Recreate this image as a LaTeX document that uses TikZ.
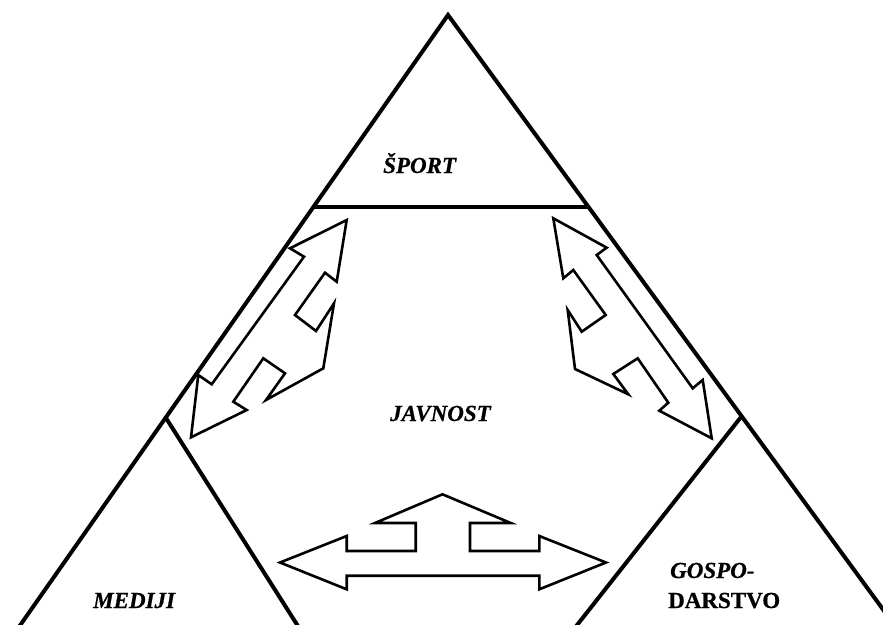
\documentclass[tikz,border=0pt]{standalone}
\usepackage{fontspec}
\setmainfont{Liberation Serif}
\begin{document}
\begin{tikzpicture}[x=1pt,y=-1pt,
  frame/.style={line width=4pt,line cap=butt,line join=miter},
  arrowshape/.style={draw,line width=2.6pt,line join=miter,miter limit=20,fill=white},
  lab/.style={inner sep=0pt,font=\fontsize{23}{27}\selectfont\bfseries\itshape\addfontfeature{FakeBold=0.6}},
  labup/.style={inner sep=0pt,font=\fontsize{23}{27}\selectfont\bfseries\addfontfeature{FakeBold=0.6}}]
\useasboundingbox (0,0) rectangle (883,624);
\clip (0,0) rectangle (883,624);
% vertices
\coordinate (apex) at (448,15);
\coordinate (bl) at (14,634);
\coordinate (br) at (901,634);
\coordinate (tl) at (314,207);
\coordinate (tr) at (587,207);
\coordinate (ml) at (166,418);
\coordinate (mlb) at (303,634);
\coordinate (mr) at (741,417);
\coordinate (mrb) at (570,634);
% frame
\draw[frame] (bl) -- (apex) -- (br);
\draw[frame] (tl) -- (tr);
\draw[frame] (ml) -- (mlb);
\draw[frame] (mr) -- (mrb);
% left diagonal arrow
\draw[arrowshape] (346.7,220.0) -- (336.7,281.7) -- (325.0,272.7) -- (295.0,315.0)
  -- (316.0,331.0) -- (334.0,303.3) -- (323.3,368.3) -- (266.0,400.0)
  -- (285.0,373.3) -- (263.3,358.3) -- (233.3,401.7) -- (246.7,410.0)
  -- (191.0,437.3) -- (198.3,375.0) -- (211.7,384.3) -- (304.0,256.7)
  -- (290.0,248.3) -- cycle;
% right diagonal arrow
\draw[arrowshape] (553.3,218.3) -- (606.7,247.7) -- (596.7,255.0) -- (692.7,388.3)
  -- (702.7,380.0) -- (711.7,438.3) -- (659.3,410.7) -- (668.3,402.7)
  -- (637.7,358.3) -- (613.3,374.0) -- (628.3,394.3) -- (575.0,369.0)
  -- (567.7,310.0) -- (581.7,331.7) -- (605.7,315.0) -- (573.3,270.0)
  -- (563.3,278.3) -- cycle;
% bottom arrow
\draw[arrowshape] (442.5,494.3) -- (510.7,523) -- (470,523) -- (470,551)
  -- (539.3,551) -- (539.3,536) -- (606,562.5) -- (539.3,589.3)
  -- (539.3,575.7) -- (346.7,575.7) -- (346.7,589.3) -- (280,562.5)
  -- (346.7,536) -- (346.7,551) -- (415.7,551) -- (415.7,523)
  -- (375,523) -- cycle;
% labels
\node[lab,anchor=base west] (sport) at (383,173) {ŠPORT};
\node[lab,anchor=base west] (javnost) at (390,421) {JAVNOST};
\node[lab,anchor=base west] (mediji) at (93,608) {MEDIJI};
\node[lab,anchor=base west] (gospo) at (670,578) {GOSPO-};
\node[labup,anchor=base west] (darstvo) at (668,608) {DARSTVO};
\end{tikzpicture}
\end{document}
